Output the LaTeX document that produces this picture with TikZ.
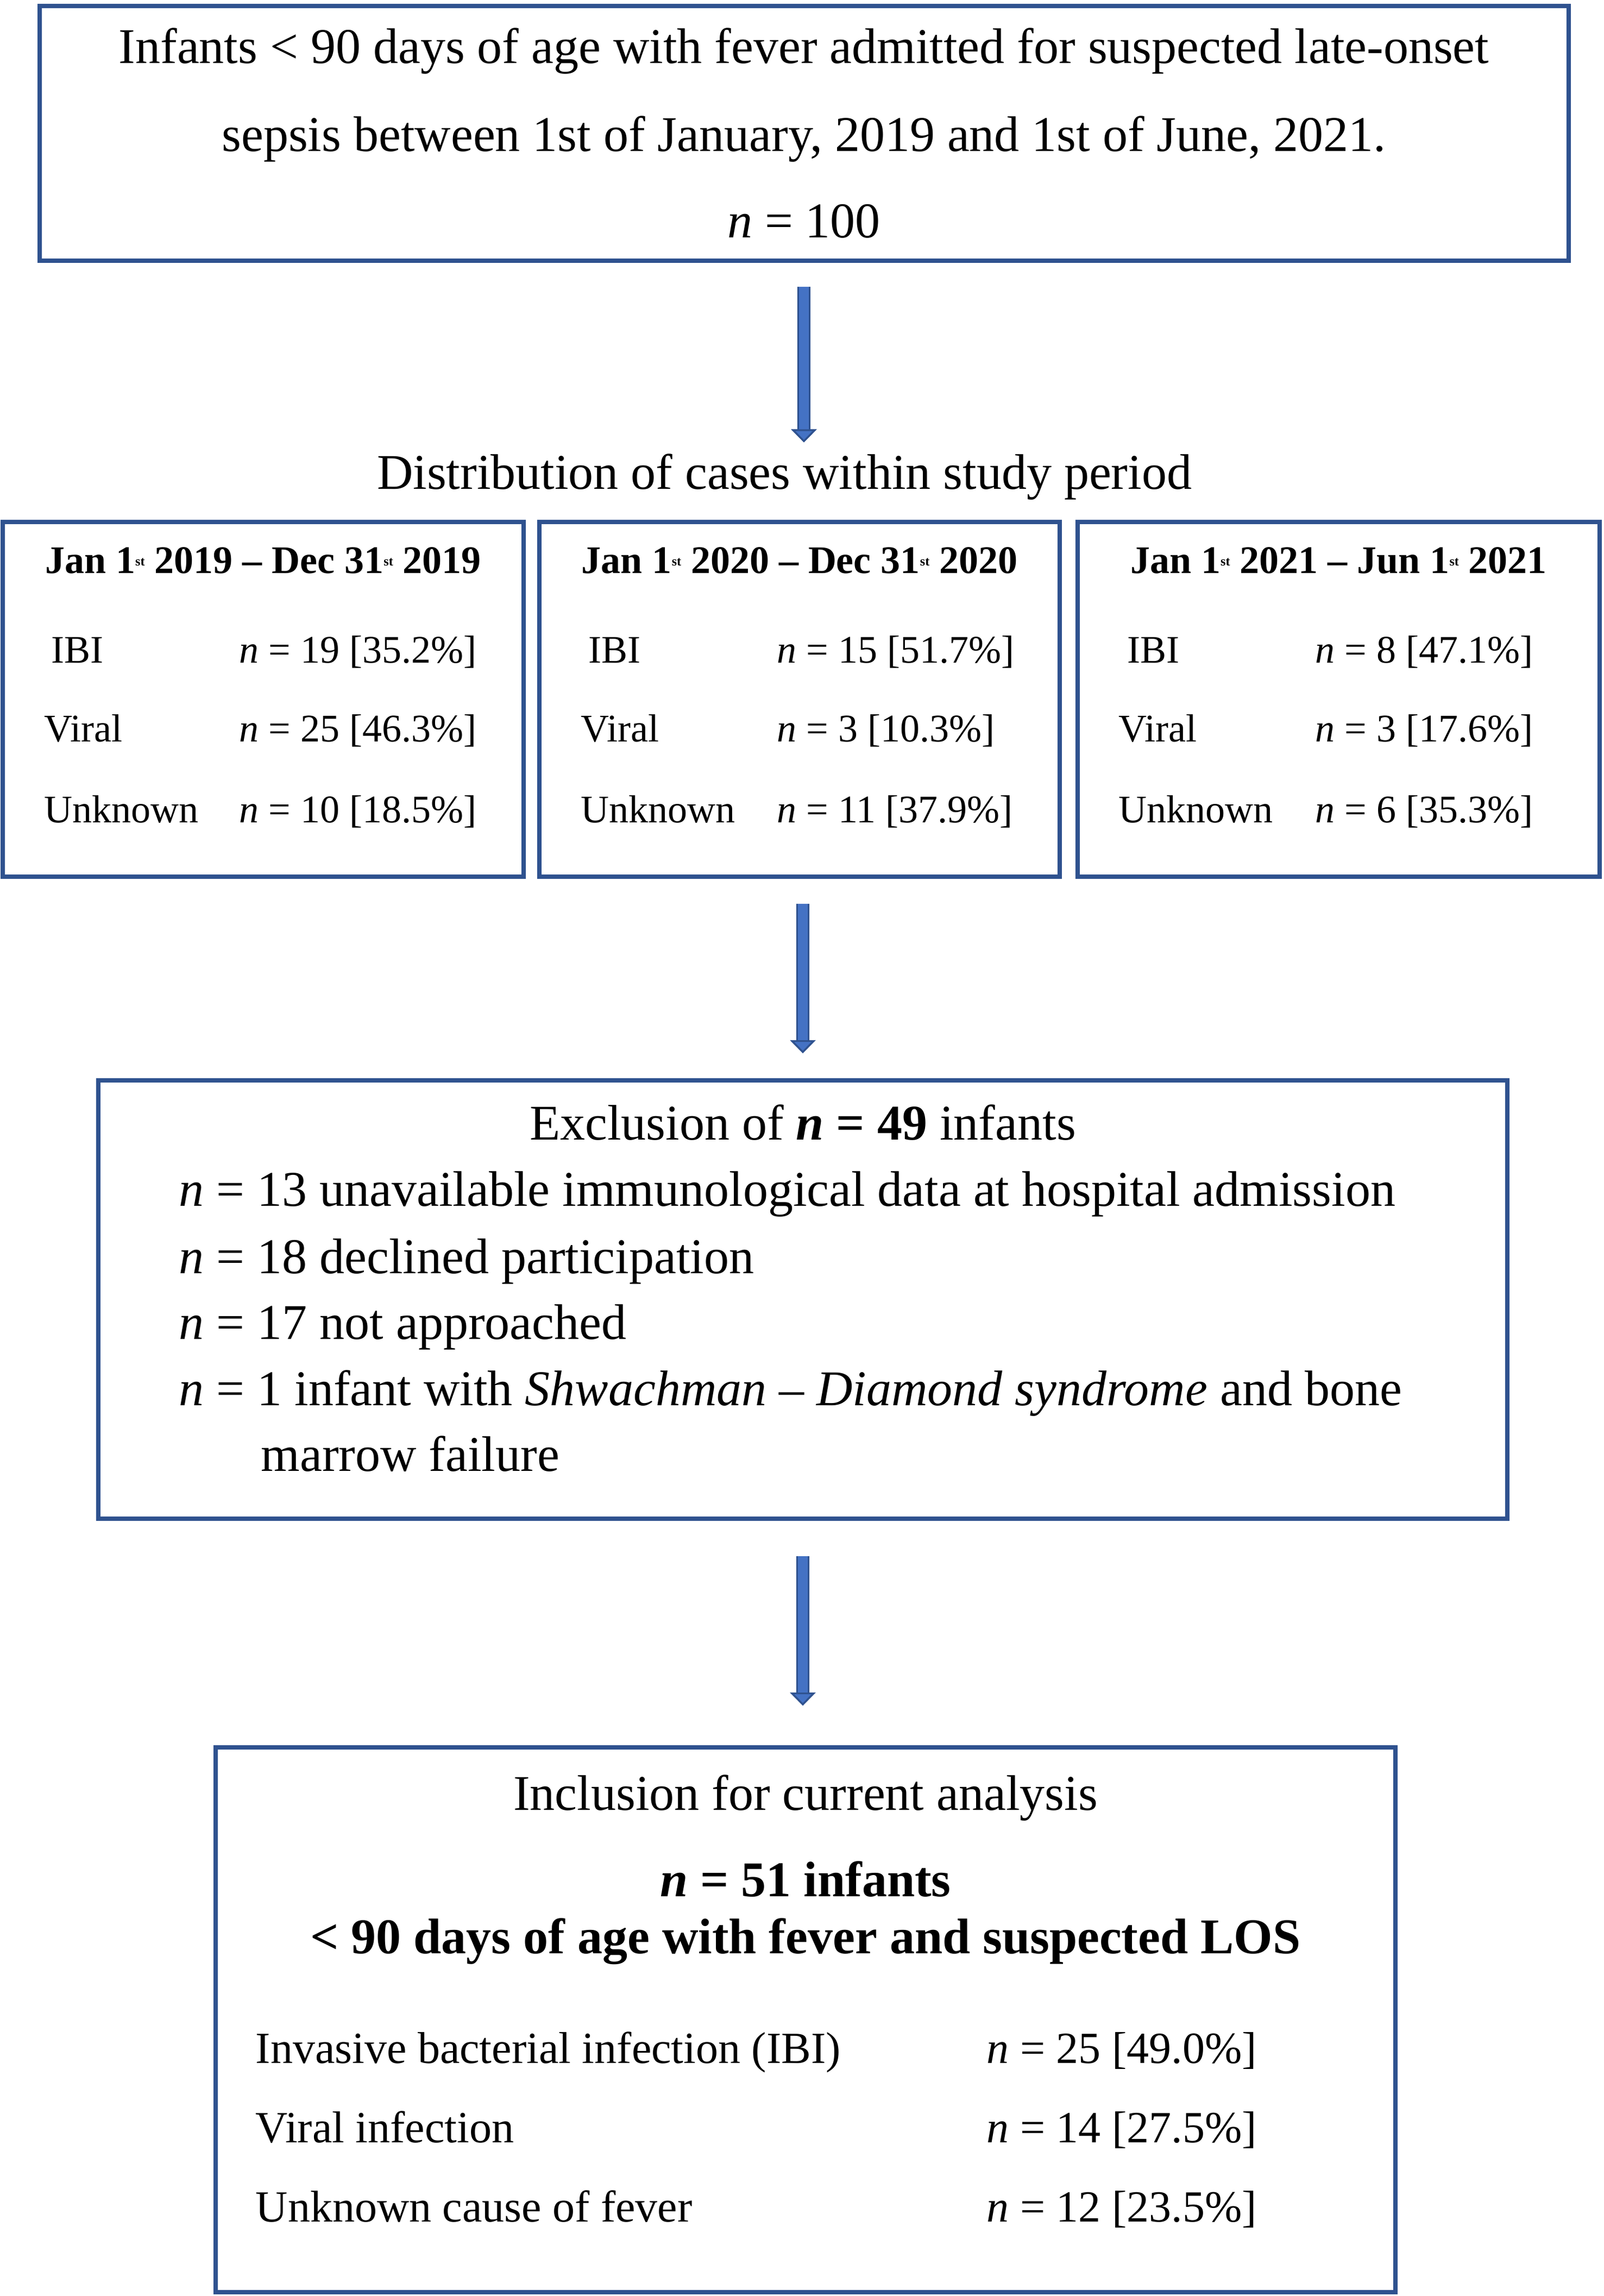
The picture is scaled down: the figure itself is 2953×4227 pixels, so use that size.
\documentclass[tikz,border=0pt]{standalone}
\usepackage{fontspec}
\setmainfont{Liberation Serif}
\usetikzlibrary{arrows.meta,calc}
\definecolor{boxblue}{RGB}{47,82,143}
\definecolor{arrowblue}{RGB}{68,114,196}
\newcommand{\ordst}{\raisebox{0.4ex}{\fontsize{6pt}{6pt}\selectfont st}}
\newcommand{\nv}{\textit{n}}
\tikzset{
  box/.style={draw=boxblue, line width=2pt, inner sep=0pt},
  big/.style={font=\fontsize{23pt}{28pt}\selectfont, inner sep=0pt},
  mid/.style={font=\fontsize{20.5pt}{25pt}\selectfont, inner sep=0pt},
  small/.style={font=\fontsize{18pt}{22pt}\selectfont, inner sep=0pt},
  lefttxt/.style={anchor=base west},
  midtxt/.style={anchor=base},
  blockarrow/.style={line width=4.5pt, draw=arrowblue,
    -{Triangle[width=11.5pt,length=6pt,fill=arrowblue,color=boxblue,line width=0.8pt]},
    preaction={draw=boxblue, line width=6pt, -{Triangle[width=11.5pt,length=6pt]}}}
}

\begin{document}
\begin{tikzpicture}[x=0.25pt, y=-0.25pt]
			\useasboundingbox (0,0) rectangle (2953,4227);
			
			%%%%% TOP %%%%%
			\node[box, minimum width=2815*0.25pt, minimum height=469*0.25pt] (top) at (1480,245.5) {};
			\node[big, midtxt] (top1) at (1480,117) {Infants \textless{} 90 days of age with fever admitted for suspected late-onset};
			\node[big, midtxt] (top2) at (1480,279) {sepsis between 1st of January, 2019 and 1st of June, 2021.};
			\node[big, midtxt] (top3) at (1480,438) {\nv{} = 100};
			
			\node[big, midtxt] (dist) at (1444,900) {Distribution of cases within study period};
			
			%%%%% YEARS %%%%%
			\node[box, minimum width=959*0.25pt, minimum height=653*0.25pt] (yr19) at (484.5,1287.5) {};
			\node[box, minimum width=958*0.25pt, minimum height=653*0.25pt] (yr20) at (1472,1287.5) {};
			\node[box, minimum width=961*0.25pt, minimum height=653*0.25pt] (yr21) at (2464.5,1287.5) {};
			
			\node[small, midtxt] (head19) at (484.5,1055) {\textbf{Jan 1\ordst{} 2019 -- Dec 31\ordst{} 2019}};
			\node[small, lefttxt] (ibi19) at (94,1220) {IBI};
			\node[small, lefttxt] (vir19) at (81,1365) {Viral};
			\node[small, lefttxt] (unk19) at (81,1514) {Unknown};
			\node[small, lefttxt] (nibi19) at (440,1220) {\nv{} = 19 [35.2\%]};
			\node[small, lefttxt] (nvir19) at (440,1365) {\nv{} = 25 [46.3\%]};
			\node[small, lefttxt] (nunk19) at (440,1514) {\nv{} = 10 [18.5\%]};
			
			\node[small, midtxt] (head20) at (1472,1055) {\textbf{Jan 1\ordst{} 2020 -- Dec 31\ordst{} 2020}};
			\node[small, lefttxt] (ibi20) at (1083,1220) {IBI};
			\node[small, lefttxt] (vir20) at (1069,1365) {Viral};
			\node[small, lefttxt] (unk20) at (1069,1514) {Unknown};
			\node[small, lefttxt] (nibi20) at (1430,1220) {\nv{} = 15 [51.7\%]};
			\node[small, lefttxt] (nvir20) at (1430,1365) {\nv{} = 3 [10.3\%]};
			\node[small, lefttxt] (nunk20) at (1430,1514) {\nv{} = 11 [37.9\%]};
			
			\node[small, midtxt] (head21) at (2464.5,1055) {\textbf{Jan 1\ordst{} 2021 -- Jun 1\ordst{} 2021}};
			\node[small, lefttxt] (ibi21) at (2075,1220) {IBI};
			\node[small, lefttxt] (vir21) at (2059,1365) {Viral};
			\node[small, lefttxt] (unk21) at (2059,1514) {Unknown};
			\node[small, lefttxt] (nibi21) at (2421,1220) {\nv{} = 8 [47.1\%]};
			\node[small, lefttxt] (nvir21) at (2421,1365) {\nv{} = 3 [17.6\%]};
			\node[small, lefttxt] (nunk21) at (2421,1514) {\nv{} = 6 [35.3\%]};
			
			%%%%% EXCLUSION %%%%%
			\node[box, minimum width=2594*0.25pt, minimum height=807*0.25pt] (excl) at (1478,2392.5) {};
			\node[big, midtxt] (excl0) at (1478,2098) {Exclusion of \textbf{\textit{n} = 49} infants};
			\node[big, lefttxt] (excl1) at (329,2220) {\nv{} = 13 unavailable immunological data at hospital admission};
			\node[big, lefttxt] (excl2) at (329,2344) {\nv{} = 18 declined participation};
			\node[big, lefttxt] (excl3) at (329,2465) {\nv{} = 17 not approached};
			\node[big, lefttxt] (excl4) at (329,2587) {\nv{} = 1 infant with \textit{Shwachman -- Diamond syndrome} and bone};
			\node[big, lefttxt] (excl5) at (480,2708) {marrow failure};
			
			%%%%% INCLUSION %%%%%
			\node[box, minimum width=2172*0.25pt, minimum height=1003*0.25pt] (incl) at (1483,3718.5) {};
			\node[big, midtxt] (incl0) at (1483,3332) {Inclusion for current analysis};
			\node[big, midtxt] (incl1) at (1483,3491) {\textbf{\textit{n} = 51 infants}};
			\node[big, midtxt] (incl2) at (1483,3596) {\textbf{\textless{} 90 days of age with fever and suspected LOS}};
			\node[mid, lefttxt] (ibi) at (470,3798) {Invasive bacterial infection (IBI)};
			\node[mid, lefttxt] (vir) at (470,3944) {Viral infection};
			\node[mid, lefttxt] (unk) at (470,4090) {Unknown cause of fever};
			\node[mid, lefttxt] (nibi) at (1816,3798) {\nv{} = 25 [49.0\%]};
			\node[mid, lefttxt] (nvir) at (1816,3944) {\nv{} = 14 [27.5\%]};
			\node[mid, lefttxt] (nunk) at (1816,4090) {\nv{} = 12 [23.5\%]};
			
			%%%%% ARROWS %%%%%
			\draw[blockarrow, shorten <=11pt, shorten >=5pt] (top.south) -- (top.south |- dist.north);
			\draw[blockarrow, shorten <=11.5pt, shorten >=11.5pt] (excl.north |- yr20.south) -- (excl.north);
			\draw[blockarrow, shorten <=16.25pt, shorten >=18.25pt] (excl.south) -- (excl.south |- incl.north);
\end{tikzpicture}
\end{document}
